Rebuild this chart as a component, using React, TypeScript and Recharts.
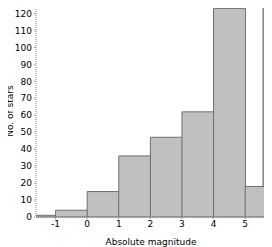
import React from 'react';
import {
    BarChart,
    Bar,
    XAxis,
    YAxis,
    CartesianGrid,
} from 'recharts';

// bins of one magnitude, given by their centres
const binCenters = [-1.5, -0.5, 0.5, 1.5, 2.5, 3.5, 4.5, 5.5];
const starCounts = [1, 4, 15, 36, 47, 62, 123, 18];
const xTicks = [-1, 0, 1, 2, 3, 4, 5];
const yTicks = [0, 10, 20, 30, 40, 50, 60, 70, 80, 90, 100, 110, 120];

const xDomain: [number, number] = [-1.62, 5.66];
const yDomain: [number, number] = [0, 125];
const frameRight = 5.57;

const data = binCenters.map((m, i) => ({ mag: m, count: starCounts[i] }));

const font = { fontSize: 9, fontFamily: 'DejaVu Sans', fill: '#000' };

const App: React.FC = () => {
    return (
        <div
            style={{
                position: 'relative',
                margin: '-8px 0 0 -8px',
                width: 272,
                height: 247,
            }}
        >
            <BarChart
                width={272}
                height={247}
                data={data}
                barCategoryGap={0}
                barGap={0}
                margin={{ top: 5, right: 6, left: 0, bottom: 0 }}
            >
                {/* right edge of the frame */}
                <CartesianGrid
                    horizontal={false}
                    verticalValues={[frameRight]}
                    stroke="#808080"
                    strokeWidth={1.5}
                />
                <Bar
                    dataKey="count"
                    fill="#c0c0c0"
                    stroke="#6e6e6e"
                    strokeWidth={1}
                    isAnimationActive={false}
                />
                <XAxis
                    dataKey="mag"
                    type="number"
                    domain={xDomain}
                    allowDataOverflow
                    ticks={xTicks}
                    interval={0}
                    height={30}
                    stroke="#808080"
                    strokeDasharray="1 1"
                    tickSize={2}
                    tickMargin={2}
                    tick={font}
                    label={{
                        value: 'Absolute magnitude',
                        position: 'insideBottom',
                        offset: 2,
                        style: font,
                    }}
                />
                <YAxis
                    type="number"
                    domain={yDomain}
                    ticks={yTicks}
                    interval={0}
                    width={36}
                    stroke="#808080"
                    strokeDasharray="1 1"
                    tickSize={2}
                    tickMargin={2}
                    tick={font}
                    label={{
                        value: 'No. of stars',
                        angle: -90,
                        position: 'insideLeft',
                        offset: 10,
                        style: { ...font, textAnchor: 'middle' },
                    }}
                />
            </BarChart>
            {/* top edge of the frame */}
            <div
                style={{
                    position: 'absolute',
                    left: 36,
                    top: 4,
                    width: 228,
                    height: 0,
                    borderTop: '1.5px solid #808080',
                    pointerEvents: 'none',
                }}
            />
        </div>
    );
};

export default App;
